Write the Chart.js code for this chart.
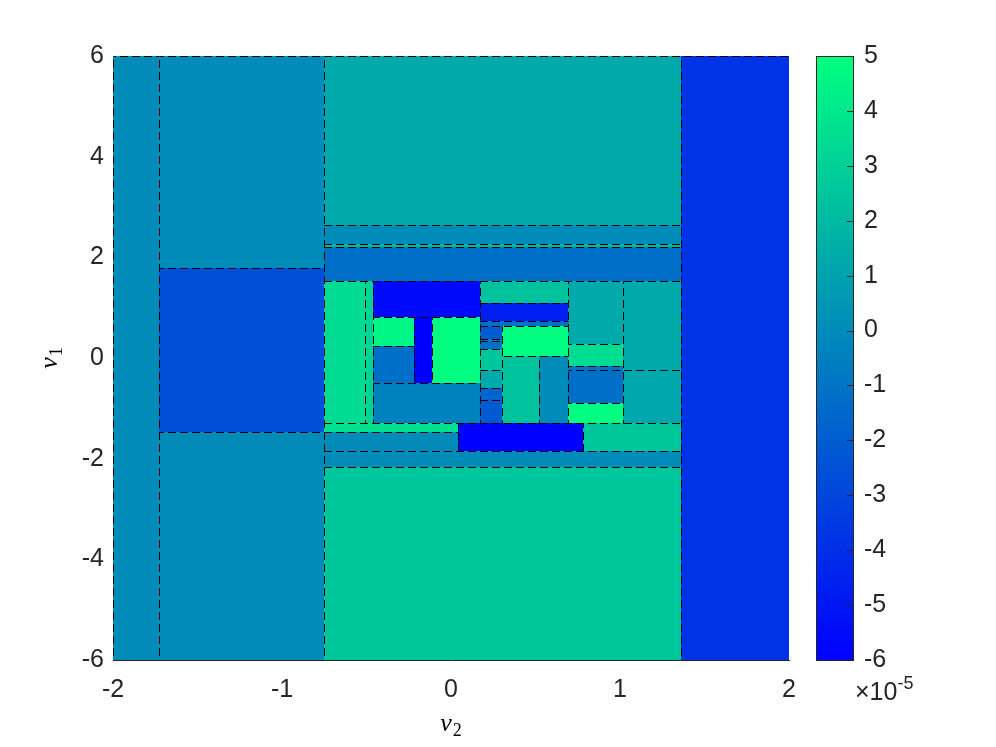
<!DOCTYPE html>
<html>
<head>
<meta charset="utf-8">
<script src="https://cdn.jsdelivr.net/npm/chart.js@4.4.1/dist/chart.umd.min.js"></script>
<style>
  html, body { margin: 0; padding: 0; background: #fff; }
  canvas { display: block; }
</style>
</head>
<body>
<canvas id="cellChart" width="996" height="747"></canvas>
<script>
// color range of the colorbar (values are x 1e-5)
const cMin = -6;
const cMax = 5;

// cells: [v2 from, v2 to, v1 from, v1 to, value]
const outerCells = [
  [-2.00, -1.73, -6.00, 6.00, 0.0],
  [-1.73, -0.75, 1.79, 6.00, 0.0],
  [-1.73, -0.75, -1.48, 1.79, -2.6],
  [-1.73, -0.75, -6.00, -1.48, 0.0],
  [1.36, 2.00, -6.00, 6.00, -3.8]
];

const bandCells = [
  [-0.75, 1.36, 2.64, 6.00, 1.3],
  [-0.75, 1.36, 2.26, 2.64, 0.0],
  [-0.75, 1.36, 2.21, 2.26, 2.0],
  [-0.75, 1.36, 1.52, 2.21, -1.2],
  [-0.75, 0.04, -1.48, -1.30, 3.7],
  [-0.75, 0.04, -1.84, -1.48, 0.0],
  [0.04, 0.78, -1.84, -1.30, -6.0],
  [0.78, 1.36, -1.84, -1.30, 2.6],
  [-0.75, 1.36, -2.17, -1.84, 0.0],
  [-0.75, 1.36, -6.00, -2.17, 2.6]
];

const innerLeft = [
  [-0.75, -0.51, -1.30, 1.52, 3.5],
  [-0.51, -0.46, -1.30, 1.52, 3.1],
  [-0.46, 0.17, 0.82, 1.52, -5.6],
  [-0.46, -0.22, 0.24, 0.82, 4.6],
  [-0.46, -0.22, -0.50, 0.24, -1.2],
  [-0.22, -0.11, -0.50, 0.82, -6.0],
  [-0.11, 0.17, -0.50, 0.82, 5.0],
  [-0.46, 0.17, -1.30, -0.50, -0.4]
];

const innerMid = [
  [0.17, 0.69, 1.09, 1.52, 2.4],
  [0.17, 0.69, 0.74, 1.09, -4.7],
  [0.17, 0.69, 0.64, 0.74, -1.2],
  [0.17, 0.30, 0.38, 0.64, -2.1],
  [0.17, 0.30, 0.34, 0.38, -0.4],
  [0.17, 0.30, 0.18, 0.34, -1.2],
  [0.17, 0.30, -0.24, 0.18, 2.6],
  [0.17, 0.30, -0.59, -0.24, 1.3],
  [0.17, 0.30, -0.83, -0.59, -1.7],
  [0.17, 0.30, -1.30, -0.83, -2.1],
  [0.30, 0.69, 0.04, 0.64, 5.0],
  [0.30, 0.52, -1.30, 0.04, 2.4],
  [0.52, 0.69, -1.30, 0.04, 0.0]
];

const innerRight = [
  [0.69, 1.02, 0.28, 1.52, 1.3],
  [0.69, 1.02, -0.15, 0.28, 3.5],
  [0.69, 1.02, -0.24, -0.15, -1.0],
  [0.69, 1.02, -0.90, -0.24, -1.2],
  [0.69, 1.02, -1.30, -0.90, 5.0],
  [1.02, 1.36, -0.24, 1.52, 1.3],
  [1.02, 1.36, -1.30, -0.24, 1.2]
];

const allCells = [...outerCells, ...bandCells, ...innerLeft, ...innerMid, ...innerRight];

const tickFont = { family: "'Liberation Sans', Arial, sans-serif", size: 25 };
const axisColor = '#262626';

// MATLAB "winter" colormap
function winter(v) {
  const t = Math.min(1, Math.max(0, (v - cMin) / (cMax - cMin)));
  return `rgb(0,${Math.round(255 * t)},${Math.round(255 * (1 - 0.5 * t))})`;
}

// dashes keep one global phase so shared edges line up
function dashed(ctx, x0, y0, x1, y1) {
  ctx.lineDashOffset = x0 === x1 ? y0 : x0;
  ctx.beginPath();
  ctx.moveTo(x0, y0);
  ctx.lineTo(x1, y1);
  ctx.stroke();
}

function drawLabel(ctx, main, sub, x, y) {
  ctx.font = "italic 26px 'Liberation Serif', 'DejaVu Serif', serif";
  const w1 = ctx.measureText(main).width;
  ctx.font = "18px 'Liberation Serif', 'DejaVu Serif', serif";
  const w2 = ctx.measureText(sub).width;
  const start = x - (w1 + w2 + 1) / 2;
  ctx.textAlign = 'left';
  ctx.textBaseline = 'alphabetic';
  ctx.font = "italic 26px 'Liberation Serif', 'DejaVu Serif', serif";
  ctx.fillText(main, start, y);
  ctx.font = "18px 'Liberation Serif', 'DejaVu Serif', serif";
  ctx.fillText(sub, start + w1 + 1, y + 5);
}

const cellPlugin = {
  id: 'cells',
  beforeDatasetsDraw(chart) {
    const { ctx, chartArea: a, scales: { x, y } } = chart;
    const px = v => Math.round(x.getPixelForValue(v));
    const py = v => Math.round(y.getPixelForValue(v));
    ctx.save();
    ctx.beginPath();
    ctx.rect(a.left, a.top, a.right - a.left, a.bottom - a.top);
    ctx.clip();
    allCells.forEach(([x0, x1, y0, y1, v]) => {
      ctx.fillStyle = winter(v);
      ctx.fillRect(px(x0), py(y1), px(x1) - px(x0), py(y0) - py(y1));
    });
    ctx.strokeStyle = '#000';
    ctx.lineWidth = 1;
    ctx.setLineDash([8, 4]);
    allCells.forEach(([x0, x1, y0, y1]) => {
      const l = px(x0) + 0.5, r = px(x1) + 0.5, t = py(y1) + 0.5, b = py(y0) + 0.5;
      dashed(ctx, l, t, r, t);
      dashed(ctx, l, b, r, b);
      dashed(ctx, l, t, l, b);
      dashed(ctx, r, t, r, b);
    });
    ctx.restore();
  },
  afterDraw(chart) {
    const { ctx, chartArea: a, scales: { cb } } = chart;
    const left = a.right + 27;
    const width = 37;
    const top = Math.round(cb.getPixelForValue(cMax));
    const bottom = Math.round(cb.getPixelForValue(cMin));
    ctx.save();
    const grad = ctx.createLinearGradient(0, top, 0, bottom);
    grad.addColorStop(0, winter(cMax));
    grad.addColorStop(1, winter(cMin));
    ctx.fillStyle = grad;
    ctx.fillRect(left, top, width, bottom - top);
    ctx.strokeStyle = axisColor;
    ctx.lineWidth = 1;
    ctx.strokeRect(left + 0.5, top + 0.5, width, bottom - top);
    // inward ticks on the right edge
    for (let v = cMin + 1; v < cMax; v++) {
      const ty = Math.round(cb.getPixelForValue(v)) + 0.5;
      ctx.beginPath();
      ctx.moveTo(left + width - 6, ty);
      ctx.lineTo(left + width, ty);
      ctx.stroke();
    }
    // exponent
    ctx.fillStyle = axisColor;
    ctx.textBaseline = 'alphabetic';
    ctx.textAlign = 'left';
    ctx.font = "25px 'Liberation Sans', Arial, sans-serif";
    ctx.fillText('\u00d710', 855, 700);
    const w = ctx.measureText('\u00d710').width;
    ctx.font = "18px 'Liberation Sans', Arial, sans-serif";
    ctx.fillText('-5', 855 + w, 689);

    // axis titles
    ctx.fillStyle = '#000';
    drawLabel(ctx, 'v', '2', (a.left + a.right) / 2, 731);
    ctx.translate(57, (a.top + a.bottom) / 2);
    ctx.rotate(-Math.PI / 2);
    drawLabel(ctx, 'v', '1', 0, 0);
    ctx.restore();
  }
};

new Chart(document.getElementById('cellChart'), {
  type: 'scatter',
  data: { datasets: [] },
  options: {
    responsive: false,
    devicePixelRatio: 1,
    animation: false,
    layout: { padding: { top: 56, left: 0, right: 0, bottom: 0 } },
    plugins: { legend: { display: false }, tooltip: { enabled: false } },
    scales: {
      x: {
        type: 'linear', position: 'bottom', min: -2, max: 2, z: 1,
        grid: { display: false, drawTicks: false },
        border: { display: true, color: axisColor, width: 1 },
        ticks: { stepSize: 1, font: tickFont, color: axisColor, padding: 15, autoSkip: false, maxRotation: 0 },
        afterFit: s => { s.height = 87; s.paddingLeft = 0; s.paddingRight = 0; }
      },
      y: {
        type: 'linear', position: 'left', min: -6, max: 6, z: 1,
        grid: { display: false, drawTicks: false },
        border: { display: true, color: axisColor, width: 1 },
        ticks: { stepSize: 2, font: tickFont, color: axisColor, padding: 9, autoSkip: false },
        afterFit: s => { s.width = 113; s.paddingTop = 0; s.paddingBottom = 0; }
      },
      cb: {
        type: 'linear', axis: 'y', position: 'right', min: cMin, max: cMax,
        grid: { display: false, drawTicks: false },
        border: { display: false },
        ticks: { stepSize: 1, font: tickFont, color: axisColor, padding: 75, autoSkip: false, crossAlign: 'near' },
        afterFit: s => { s.width = 207; s.paddingTop = 0; s.paddingBottom = 0; }
      }
    }
  },
  plugins: [cellPlugin]
});
</script>
</body>
</html>
